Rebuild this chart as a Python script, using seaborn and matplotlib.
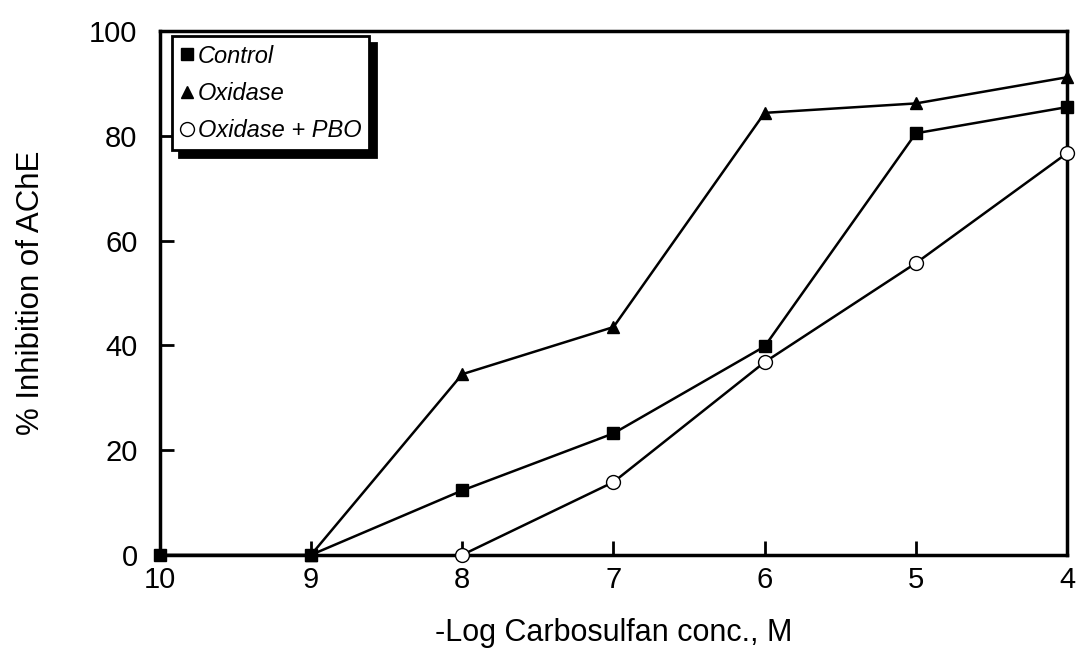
import numpy as np
import pandas as pd
import matplotlib
matplotlib.use("Agg")
import matplotlib.pyplot as plt
import seaborn as sns
from matplotlib.lines import Line2D

# --------------------------------------------
# Data
# --------------------------------------------
control_x = [10, 9, 8, 7, 6, 5, 4]
control_y = [0, 0, 12.3, 23.2, 39.8, 80.5, 85.5]

oxidase_x = [9, 8, 7, 6, 5, 4]
oxidase_y = [0, 34.5, 43.5, 84.4, 86.2, 91.2]

pbo_x = [8, 7, 6, 5, 4]
pbo_y = [0, 13.9, 36.8, 55.7, 76.7]

x_ticks = [10, 9, 8, 7, 6, 5, 4]
y_ticks = [0, 20, 40, 60, 80, 100]

series = [
    ("Control", control_x, control_y, "s", "black"),
    ("Oxidase", oxidase_x, oxidase_y, "^", "black"),
    ("Oxidase + PBO", pbo_x, pbo_y, "o", "white"),
]

sns.set_style("white")
plt.rcParams["font.family"] = ["Liberation Sans", "DejaVu Sans"]
plt.rcParams["text.color"] = "black"
plt.rcParams["axes.labelcolor"] = "black"
plt.rcParams["xtick.color"] = "black"
plt.rcParams["ytick.color"] = "black"

fig, ax = plt.subplots(figsize=(10.8, 6.49), dpi=100)
fig.subplots_adjust(left=0.148, right=0.988, bottom=0.145, top=0.952)

for name, xs, ys, mk, fc in series:
    df = pd.DataFrame({"x": xs, "y": ys})
    sns.lineplot(data=df, x="x", y="y", ax=ax, color="black", lw=1.8,
                 marker=mk, ms=9 if mk != "o" else 10, mfc=fc, mec="black",
                 mew=1.0, clip_on=False, zorder=3)

ax.set_xlim(10, 4)
ax.set_ylim(0, 100)
ax.set_xticks(x_ticks)
ax.set_yticks(y_ticks)
ax.tick_params(direction="in", length=10, width=2, labelsize=21,
               bottom=True, left=True, top=False, right=False)
ax.tick_params(axis="y", pad=16)
ax.tick_params(axis="x", pad=8)
for s in ax.spines.values():
    s.set_linewidth(2.5)
    s.set_color("black")

ax.set_xlabel("-Log Carbosulfan conc., M", fontsize=22, labelpad=17)
ax.set_ylabel("% Inhibition of AChE", fontsize=22.5, labelpad=31)

# legend: marker only, italic, heavy box with black drop shadow
handles = [Line2D([], [], ls="none", marker=mk, ms=9 if mk != "o" else 10,
                  mfc=fc, mec="black", color="black")
           for name, xs, ys, mk, fc in series]
labels = [name for name, *_ in series]
leg = ax.legend(handles, labels, loc="upper left", bbox_to_anchor=(0.013, 0.99),
                frameon=True, fancybox=False, handlelength=0.6, handletextpad=0.15,
                borderpad=0.35, labelspacing=0.6, borderaxespad=0,
                prop={"style": "italic", "size": 17},
                shadow={"color": "black", "alpha": 1, "ox": 5, "oy": -5})
leg.get_frame().set_edgecolor("black")
leg.get_frame().set_linewidth(2)

plt.savefig("out.png", dpi=100)
